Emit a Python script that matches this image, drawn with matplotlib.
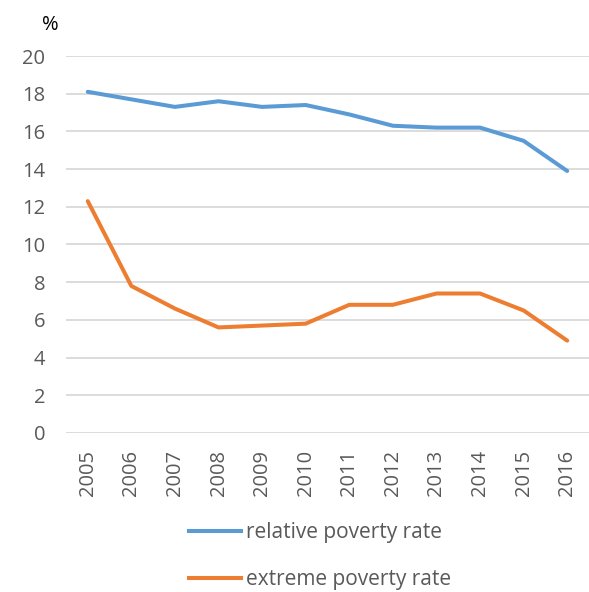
import matplotlib.pyplot as plt
from matplotlib.lines import Line2D

years = ["2005", "2006", "2007", "2008", "2009", "2010",
         "2011", "2012", "2013", "2014", "2015", "2016"]
relative = [18.1, 17.7, 17.3, 17.6, 17.3, 17.4, 16.9, 16.3, 16.2, 16.2, 15.5, 13.9]
extreme = [12.3, 7.8, 6.6, 5.6, 5.7, 5.8, 6.8, 6.8, 7.4, 7.4, 6.5, 4.9]
yticks = [0, 2, 4, 6, 8, 10, 12, 14, 16, 18, 20]

plt.rcParams['font.family'] = ['Open Sans', 'DejaVu Sans']

fig = plt.figure(figsize=(5.89, 5.92), dpi=100)
ax = fig.add_axes([0.112, 0.2686, 0.888, 0.6368])

x = range(len(years))
ax.plot(x, relative, color='#5B9BD5', lw=2.9, solid_capstyle='round')
ax.plot(x, extreme, color='#ED7D31', lw=2.9, solid_capstyle='round')

ax.set_xlim(-0.5, len(years) - 0.5)
ax.set_ylim(0, 20)
ax.set_yticks(yticks)
ax.set_xticks(list(x))
ax.set_xticklabels(years, rotation=90)
ax.tick_params(axis='both', length=0, labelsize=14.5, colors='#595959')
ax.tick_params(axis='y', pad=15)
ax.tick_params(axis='x', pad=12)
ax.grid(axis='y', color='#D9D9D9', lw=1.3)
ax.set_axisbelow(True)
for s in ax.spines.values():
    s.set_visible(False)

fig.text(50 / 589, 1 - 25 / 592, '%', fontsize=14.5, color='black', ha='center', va='center')

handles = [Line2D([], [], color='#5B9BD5', lw=2.9),
           Line2D([], [], color='#ED7D31', lw=2.9)]
fig.legend(handles, ['relative poverty rate', 'extreme poverty rate'],
           loc='center', bbox_to_anchor=(320 / 589, 1 - 556 / 592),
           frameon=False, fontsize=15, labelcolor='#595959',
           handlelength=2.5, handletextpad=0.25, labelspacing=1.25)

fig.savefig('out.png', dpi=100)
